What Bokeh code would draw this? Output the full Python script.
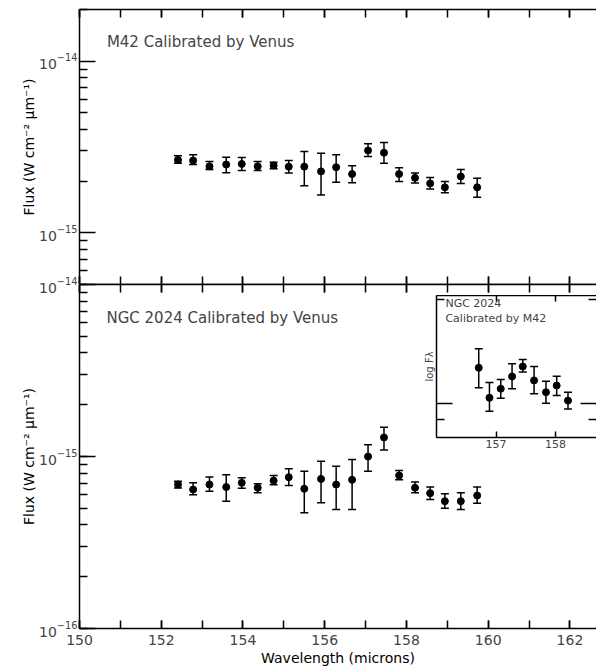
from bokeh.plotting import figure
from bokeh.models import (ColumnDataSource, Whisker, TeeHead, Label, LogAxis, LinearAxis,
                          SingleIntervalTicker, FixedTicker, Range1d, Title)
from bokeh.layouts import column
from bokeh.embed import file_html
from bokeh.resources import INLINE

# ---------------- data ----------------
wavelength = [152.41, 152.78, 153.18, 153.59, 153.97, 154.36, 154.75, 155.12, 155.50, 155.91,
              156.28, 156.67, 157.06, 157.45, 157.82, 158.21, 158.58, 158.94, 159.33, 159.73]

m42_flux = [2.66e-15, 2.64e-15, 2.44e-15, 2.50e-15, 2.52e-15, 2.44e-15, 2.47e-15, 2.43e-15, 2.43e-15, 2.28e-15,
            2.41e-15, 2.20e-15, 3.02e-15, 2.93e-15, 2.20e-15, 2.09e-15, 1.94e-15, 1.84e-15, 2.13e-15, 1.84e-15]
m42_upper = [2.81e-15, 2.85e-15, 2.60e-15, 2.76e-15, 2.75e-15, 2.60e-15, 2.58e-15, 2.64e-15, 2.98e-15, 2.91e-15,
             2.85e-15, 2.46e-15, 3.30e-15, 3.36e-15, 2.39e-15, 2.23e-15, 2.10e-15, 1.99e-15, 2.34e-15, 2.08e-15]
m42_lower = [2.54e-15, 2.50e-15, 2.34e-15, 2.24e-15, 2.31e-15, 2.31e-15, 2.36e-15, 2.23e-15, 1.88e-15, 1.66e-15,
             1.97e-15, 1.96e-15, 2.78e-15, 2.54e-15, 1.99e-15, 1.95e-15, 1.80e-15, 1.71e-15, 1.94e-15, 1.61e-15]

ngc_flux = [6.87e-16, 6.43e-16, 6.87e-16, 6.64e-16, 7.03e-16, 6.58e-16, 7.24e-16, 7.58e-16, 6.49e-16, 7.41e-16,
            6.87e-16, 7.32e-16, 1.00e-15, 1.29e-15, 7.76e-16, 6.58e-16, 6.12e-16, 5.50e-16, 5.50e-16, 5.93e-16]
ngc_upper = [7.18e-16, 7.03e-16, 7.59e-16, 7.83e-16, 7.52e-16, 6.94e-16, 7.76e-16, 8.48e-16, 8.22e-16, 9.39e-16,
             8.79e-16, 9.61e-16, 1.17e-15, 1.48e-15, 8.30e-16, 7.10e-16, 6.64e-16, 6.07e-16, 6.15e-16, 6.64e-16]
ngc_lower = [6.57e-16, 5.99e-16, 6.28e-16, 5.50e-16, 6.54e-16, 6.15e-16, 6.85e-16, 6.78e-16, 4.71e-16, 5.38e-16,
             4.92e-16, 4.92e-16, 8.22e-16, 1.09e-15, 7.33e-16, 6.15e-16, 5.62e-16, 5.00e-16, 4.92e-16, 5.35e-16]

inset_wavelength = [156.71, 156.89, 157.08, 157.27, 157.45, 157.64, 157.84, 158.02, 158.21]
inset_flux = [1.270, 1.041, 1.105, 1.199, 1.281, 1.168, 1.080, 1.129, 1.022]
inset_upper = [1.441, 1.152, 1.175, 1.304, 1.342, 1.281, 1.162, 1.201, 1.080]
inset_lower = [1.112, 0.952, 1.038, 1.105, 1.234, 1.069, 1.004, 1.057, 0.967]

# tick positions
top_major_ticks = [1e-15, 1e-14]
top_minor_ticks = [6e-16, 7e-16, 8e-16, 9e-16, 2e-15, 3e-15, 4e-15, 5e-15, 6e-15, 7e-15, 8e-15, 9e-15, 2e-14]
inset_x_ticks = [157, 158]
inset_y_major = [1.0]
inset_y_minor = [0.9, 2.0]

top_title = "M42 Calibrated by Venus"
bottom_title = "NGC 2024 Calibrated by Venus"
inset_title = ["NGC 2024", "Calibrated by M42"]
y_title = "Flux (W cm\u207b\u00b2 \u03bcm\u207b\u00b9)"
x_title = "Wavelength (microns)"
inset_y_title = "log F\u03bb"

FONT = "DejaVu Sans"
LW = 1.5
LEFT = 79          # left border of the main panels (px)
FRAME_W = 517      # main frame width (px)
PX_PER_MICRON = 40.87
X_END = 150 + FRAME_W / PX_PER_MICRON


def style_common(p):
    p.grid.visible = False
    # the right edge of the original is cropped; the other edges are drawn by the axes
    p.outline_line_color = None
    p.background_fill_color = "white"


def hide_labels(axis):
    axis.major_label_text_font_size = "1px"
    axis.major_label_text_color = None
    axis.major_label_standoff = 0


def style_x(axis, labels):
    axis.ticker = SingleIntervalTicker(interval=2, num_minor_ticks=2)
    axis.major_tick_in = 8
    axis.major_tick_out = 0
    axis.minor_tick_in = 8
    axis.minor_tick_out = 0
    axis.axis_line_width = LW
    axis.major_tick_line_width = LW
    axis.minor_tick_line_width = LW
    axis.major_label_text_font = FONT
    if labels:
        axis.major_label_text_font_size = "14px"
        axis.major_label_standoff = 6
    else:
        hide_labels(axis)


def style_y(axis):
    axis.major_tick_in = 16
    axis.major_tick_out = 0
    axis.minor_tick_in = 8
    axis.minor_tick_out = 0
    axis.axis_line_width = LW
    axis.major_tick_line_width = LW
    axis.minor_tick_line_width = LW
    axis.major_label_text_font = FONT
    axis.major_label_text_font_size = "14px"
    axis.major_label_standoff = 2


def side_title(text, offset):
    return Title(text=text, align="center", offset=offset, standoff=0,
                 text_font=FONT, text_font_size="14px", text_font_style="normal",
                 text_color="black")


def add_points(p, x, y, lo, hi, size=7, head=8):
    src = ColumnDataSource(dict(x=x, y=y, lo=lo, hi=hi))
    w = Whisker(base="x", upper="hi", lower="lo", source=src,
                line_color="black", line_width=LW,
                upper_head=TeeHead(size=head, line_width=LW, line_color="black"),
                lower_head=TeeHead(size=head, line_width=LW, line_color="black"))
    p.add_layout(w)
    p.scatter("x", "y", source=src, size=size, color="black")


# ---------------- top panel ----------------
top = figure(frame_width=FRAME_W, frame_height=275,
             x_range=Range1d(150, X_END), y_range=Range1d(5e-16, 2e-14),
             y_axis_type="log", output_backend="svg", toolbar_location=None,
             min_border_left=LEFT, min_border_right=0, min_border_top=9, min_border_bottom=0)
style_common(top)
style_x(top.xaxis[0], labels=False)
top_above = LinearAxis()
style_x(top_above, labels=False)
top.add_layout(top_above, "above")
style_y(top.yaxis[0])
top.yaxis[0].ticker = FixedTicker(ticks=top_major_ticks, minor_ticks=top_minor_ticks)
top.add_layout(side_title(y_title, 1), "left")
add_points(top, wavelength, m42_flux, m42_lower, m42_upper)
top.add_layout(Label(x=150.67, y=1.29e-14, text=top_title, text_font=FONT,
                     text_font_size="15px", text_baseline="middle", text_align="left"))

# ---------------- bottom panel ----------------
bottom = figure(frame_width=FRAME_W, frame_height=344,
                x_range=Range1d(150, X_END), y_range=Range1d(1e-16, 1e-14),
                y_axis_type="log", output_backend="svg", toolbar_location=None,
                min_border_left=LEFT, min_border_right=0, min_border_top=10, min_border_bottom=41,
                border_fill_color=None, margin=(-10, 0, 0, 0))
style_common(bottom)
style_x(bottom.xaxis[0], labels=True)
bot_above = LinearAxis()
style_x(bot_above, labels=False)
bottom.add_layout(bot_above, "above")
style_y(bottom.yaxis[0])
bottom.add_layout(side_title(y_title, 16), "left")
bottom.add_layout(side_title(x_title, 7.5), "below")
add_points(bottom, wavelength, ngc_flux, ngc_lower, ngc_upper)
bottom.add_layout(Label(x=150.66, y=6.42e-15, text=bottom_title, text_font=FONT,
                        text_font_size="15px", text_baseline="middle", text_align="left"))

# ---------------- inset ----------------
INSET_LEFT = 436
INSET_W = LEFT + FRAME_W - INSET_LEFT
inset = figure(frame_width=INSET_W, frame_height=142,
               x_range=Range1d(156, 156 + INSET_W / 59.5), y_range=Range1d(0.80, 2.05),
               y_axis_type="log", output_backend="svg", toolbar_location=None,
               min_border_left=LEFT, min_border_right=0, min_border_top=0, min_border_bottom=18,
               border_fill_color=None, margin=(-374, 0, 214, INSET_LEFT - LEFT))
style_common(inset)


def style_inset_x(axis, labels):
    axis.ticker = FixedTicker(ticks=inset_x_ticks, minor_ticks=[])
    axis.major_tick_in = 6
    axis.major_tick_out = 0
    axis.axis_line_width = LW
    axis.major_tick_line_width = LW
    axis.major_label_text_font = FONT
    if labels:
        axis.major_label_text_font_size = "11px"
        axis.major_label_standoff = 2
    else:
        hide_labels(axis)


def style_inset_y(axis):
    axis.ticker = FixedTicker(ticks=inset_y_major, minor_ticks=inset_y_minor)
    axis.major_tick_in = 16
    axis.major_tick_out = 0
    axis.minor_tick_in = 8
    axis.minor_tick_out = 0
    axis.axis_line_width = LW
    axis.major_tick_line_width = LW
    axis.minor_tick_line_width = LW
    hide_labels(axis)


style_inset_x(inset.xaxis[0], True)
ia = LinearAxis()
style_inset_x(ia, False)
inset.add_layout(ia, "above")
style_inset_y(inset.yaxis[0])
inset.yaxis[0].axis_label = inset_y_title
inset.yaxis[0].axis_label_text_font = FONT
inset.yaxis[0].axis_label_text_font_size = "10px"
inset.yaxis[0].axis_label_text_font_style = "normal"
inset.yaxis[0].axis_label_standoff = 2
ir = LogAxis()
style_inset_y(ir)
ir.axis_line_color = None
inset.add_layout(ir, "right")
add_points(inset, inset_wavelength, inset_flux, inset_lower, inset_upper, size=7, head=8)
inset.add_layout(Label(x=156.15, y=1.948, text=inset_title[0], text_font=FONT,
                       text_font_size="11px", text_baseline="middle", text_align="left"))
inset.add_layout(Label(x=156.15, y=1.763, text=inset_title[1], text_font=FONT,
                       text_font_size="11px", text_baseline="middle", text_align="left"))

layout = column(top, bottom, inset)

open("out.html", "w").write(file_html(layout, INLINE))
